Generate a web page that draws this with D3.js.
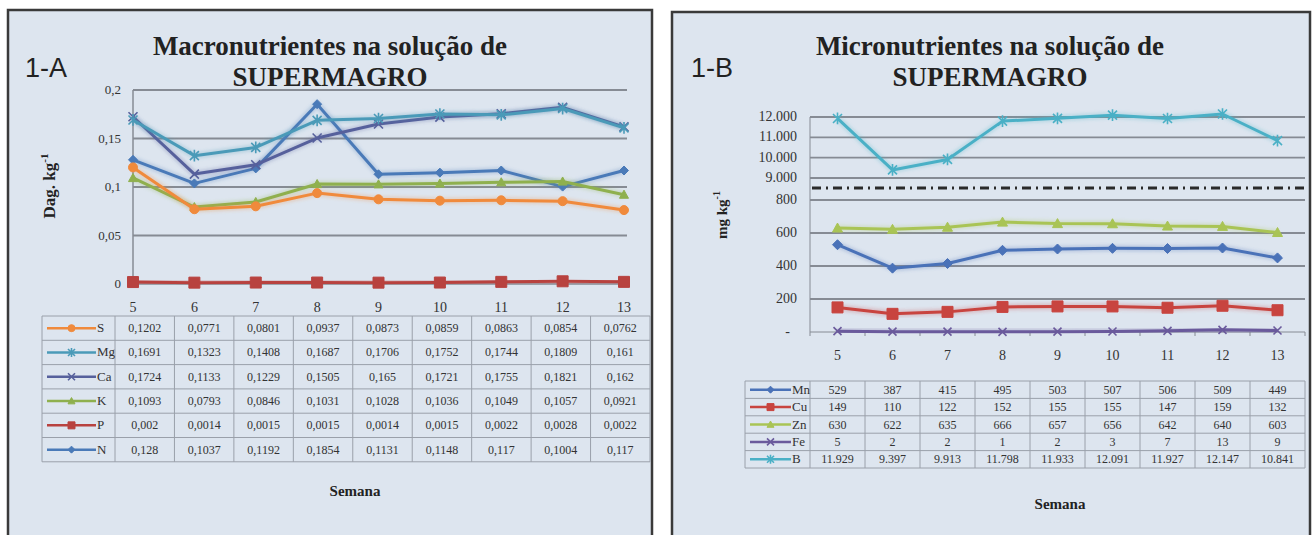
<!DOCTYPE html>
<html>
<head>
<meta charset="utf-8">
<script src="https://cdn.jsdelivr.net/npm/d3@7"></script>
<style>
  html, body { margin: 0; padding: 0; background: #ffffff; }
  svg { display: block; }
</style>
</head>
<body>
<svg id="chart" width="1314" height="535"></svg>
<script>
// ---- data ----
const weeks = [5, 6, 7, 8, 9, 10, 11, 12, 13];

// Macronutrients (Dag kg-1), table order top to bottom
const macroNames = ["S", "Mg", "Ca", "K", "P", "N"];
const macroS  = [0.1202, 0.0771, 0.0801, 0.0937, 0.0873, 0.0859, 0.0863, 0.0854, 0.0762];
const macroMg = [0.1691, 0.1323, 0.1408, 0.1687, 0.1706, 0.1752, 0.1744, 0.1809, 0.161];
const macroCa = [0.1724, 0.1133, 0.1229, 0.1505, 0.165, 0.1721, 0.1755, 0.1821, 0.162];
const macroK  = [0.1093, 0.0793, 0.0846, 0.1031, 0.1028, 0.1036, 0.1049, 0.1057, 0.0921];
const macroP  = [0.002, 0.0014, 0.0015, 0.0015, 0.0014, 0.0015, 0.0022, 0.0028, 0.0022];
const macroN  = [0.128, 0.1037, 0.1192, 0.1854, 0.1131, 0.1148, 0.117, 0.1004, 0.117];
const macroTicks = [0, 0.05, 0.1, 0.15, 0.2];

// Micronutrients (mg kg-1), table order top to bottom
const microNames = ["Mn", "Cu", "Zn", "Fe", "B"];
const microMn = [529, 387, 415, 495, 503, 507, 506, 509, 449];
const microCu = [149, 110, 122, 152, 155, 155, 147, 159, 132];
const microZn = [630, 622, 635, 666, 657, 656, 642, 640, 603];
const microFe = [5, 2, 2, 1, 2, 3, 7, 13, 9];
const microB  = [11929, 9397, 9913, 11798, 11933, 12091, 11927, 12147, 10841];
const microLowTicks = [0, 200, 400, 600, 800];
const microHighTicks = [9000, 10000, 11000, 12000];

// ---- styling per series ----
const style = {
  N:  { color: "#4a7ab8", marker: "diamond" },
  P:  { color: "#b8423f", marker: "square" },
  K:  { color: "#8fb04e", marker: "triangle" },
  Ca: { color: "#56609c", marker: "cross" },
  Mg: { color: "#4a9ab8", marker: "star" },
  S:  { color: "#f08a3c", marker: "circle" },
  Mn: { color: "#4a72b8", marker: "diamond" },
  Cu: { color: "#c8443f", marker: "square" },
  Zn: { color: "#a9c455", marker: "triangle" },
  Fe: { color: "#6a5a9c", marker: "cross" },
  B:  { color: "#4ab0c6", marker: "star" }
};

const svg = d3.select("#chart");
const serif = "'Liberation Serif', 'Times New Roman', serif";
const sans = "'Liberation Sans', Arial, sans-serif";
const panelFill = "#dde5ef";
const gridColor = "#868b94";
const commaFmt = v => String(v).replace(".", ",");
const dotThousands = d3.formatLocale({ decimal: ",", thousands: ".", grouping: [3], currency: ["", ""] }).format(",d");

const defs = svg.append("defs");
defs.append("filter").attr("id", "halo").attr("x", "-5%").attr("y", "-50%").attr("width", "110%").attr("height", "200%")
  .append("feGaussianBlur").attr("stdDeviation", 1.6);

function markerPath(type, size) {
  const s = size;
  switch (type) {
    case "diamond": return `M0,${-s}L${s},0L0,${s}L${-s},0Z`;
    case "square": return `M${-s},${-s}H${s}V${s}H${-s}Z`;
    case "triangle": return `M0,${-s}L${s},${s * 0.8}L${-s},${s * 0.8}Z`;
    case "circle": return d3.symbol(d3.symbolCircle, Math.PI * s * s)();
    case "cross": return `M${-s},${-s}L${s},${s}M${s},${-s}L${-s},${s}`;
    case "star": return `M${-s},${-s}L${s},${s}M${s},${-s}L${-s},${s}M0,${-s * 1.3}V${s * 1.3}`;
  }
}

function drawMarker(g, type, color, x, y, size) {
  const open = type === "cross" || type === "star";
  g.append("path")
    .attr("transform", `translate(${x},${y})`)
    .attr("d", markerPath(type, size))
    .attr("fill", open ? "none" : color)
    .attr("stroke", color)
    .attr("stroke-width", open ? 1.6 : 1);
}

function drawSeries(g, name, values, xs, yScale, size) {
  const st = style[name];
  const pts = values.map((v, i) => [xs(i), yScale(v)]);
  const line = d3.line();
  g.append("path").attr("d", line(pts)).attr("fill", "none")
    .attr("stroke", st.color).attr("stroke-width", 7).attr("stroke-opacity", 0.22)
    .attr("stroke-linejoin", "round").attr("filter", "url(#halo)");
  g.append("path").attr("d", line(pts)).attr("fill", "none")
    .attr("stroke", st.color).attr("stroke-width", 3).attr("stroke-linejoin", "round");
  pts.forEach(p => drawMarker(g, st.marker, st.color, p[0], p[1], size));
}

function panel(x, y, w, h) {
  svg.append("rect").attr("x", x).attr("y", y).attr("width", w).attr("height", h)
    .attr("fill", panelFill).attr("stroke", "#3a3a3a").attr("stroke-width", 2.5);
}

function titles(cx, label, lx, line1) {
  svg.append("text").attr("x", lx).attr("y", 77).attr("font-family", sans).attr("font-size", 27)
    .attr("fill", "#222").text(label);
  const t = svg.append("text").attr("text-anchor", "middle").attr("font-family", serif)
    .attr("font-weight", "bold").attr("font-size", 27).attr("fill", "#222");
  t.append("tspan").attr("x", cx).attr("y", 55).text(line1);
  t.append("tspan").attr("x", cx).attr("y", 86).text("SUPERMAGRO");
}

function dataTable(g, names, rows, left, legRight, right, top, rowH, fmt, fontSize) {
  const n = weeks.length;
  const colX = d3.scaleBand().domain(d3.range(n)).range([legRight, right]);
  const rowY = d3.scaleBand().domain(d3.range(names.length)).range([top, top + rowH * names.length]);
  const lineC = "#9aa0aa";
  d3.range(names.length + 1).forEach(i => {
    const yy = top + i * rowH;
    g.append("line").attr("x1", left).attr("x2", right).attr("y1", yy).attr("y2", yy)
      .attr("stroke", lineC).attr("stroke-width", 1);
  });
  g.append("line").attr("x1", left).attr("x2", left).attr("y1", top).attr("y2", top + rowH * names.length)
    .attr("stroke", lineC);
  d3.range(n + 1).forEach(i => {
    const xx = legRight + i * colX.bandwidth();
    g.append("line").attr("x1", xx).attr("x2", xx).attr("y1", top).attr("y2", top + rowH * names.length)
      .attr("stroke", lineC);
  });
  names.forEach((name, r) => {
    const cy = rowY(r) + rowH / 2;
    const st = style[name];
    const kx0 = left + 5, kx1 = legRight - 19;
    g.append("line").attr("x1", kx0).attr("x2", kx1).attr("y1", cy).attr("y2", cy)
      .attr("stroke", st.color).attr("stroke-width", 2.5);
    drawMarker(g, st.marker, st.color, (kx0 + kx1) / 2, cy, 3.5);
    g.append("text").attr("x", kx1 + 1).attr("y", cy + 4).attr("font-family", serif)
      .attr("font-size", fontSize + 1).attr("fill", "#333").text(name);
    rows[r].forEach((v, i) => {
      g.append("text").attr("x", colX(i) + colX.bandwidth() / 2).attr("y", cy + 4)
        .attr("text-anchor", "middle").attr("font-family", serif).attr("font-size", fontSize)
        .attr("fill", "#333").text(fmt(v, name));
    });
  });
}

// ================= Panel 1-A =================
panel(8, 10, 644, 540);
titles(330, "1-A", 25, "Macronutrientes na solução de");

const gA = svg.append("g");
const xA = d3.scalePoint().domain(d3.range(weeks.length)).range([133, 624]);
const yA = d3.scaleLinear().domain([0, 0.2]).range([284, 90]);

macroTicks.forEach(t => {
  if (t > 0) gA.append("line").attr("x1", 133).attr("x2", 627).attr("y1", yA(t)).attr("y2", yA(t))
    .attr("stroke", gridColor).attr("stroke-width", 1.8);
  gA.append("text").attr("x", 121).attr("y", yA(t) + 4).attr("text-anchor", "end")
    .attr("font-family", serif).attr("font-size", 13).attr("fill", "#333").text(commaFmt(t));
});
gA.append("line").attr("x1", 133).attr("x2", 133).attr("y1", yA(0.2)).attr("y2", yA(0))
  .attr("stroke", gridColor).attr("stroke-width", 1.5);
gA.append("line").attr("x1", 133).attr("x2", 627).attr("y1", yA(0)).attr("y2", yA(0))
  .attr("stroke", gridColor).attr("stroke-width", 1.5);

weeks.forEach((wk, i) => {
  gA.append("text").attr("x", xA(i)).attr("y", 312).attr("text-anchor", "middle")
    .attr("font-family", serif).attr("font-size", 14).attr("fill", "#333").text(wk);
});

const macroRows = [macroS, macroMg, macroCa, macroK, macroP, macroN];
// plot in series order N, P, K, Ca, Mg, S (S on top)
["N", "P", "K", "Ca", "Mg", "S"].forEach(name => {
  const vals = macroRows[macroNames.indexOf(name)];
  drawSeries(gA, name, vals, xA, yA, name === "P" ? 5.5 : 4.5);
});

dataTable(gA, macroNames, macroRows, 42, 115, 650, 316, 24.3, v => commaFmt(v), 12);

gA.append("text").attr("transform", "translate(55,186) rotate(-90)").attr("text-anchor", "middle")
  .attr("font-family", serif).attr("font-weight", "bold").attr("font-size", 17).attr("fill", "#222")
  .text("Dag. kg").append("tspan").attr("dy", -7).attr("font-size", 11).text("-1");
gA.append("text").attr("x", 355).attr("y", 496).attr("text-anchor", "middle")
  .attr("font-family", serif).attr("font-weight", "bold").attr("font-size", 15).attr("fill", "#222")
  .text("Semana");

// ================= Panel 1-B =================
panel(672, 12, 638, 540);
titles(990, "1-B", 691, "Micronutrientes na solução de");

const gB = svg.append("g");
const xB = d3.scaleBand().domain(d3.range(weeks.length)).range([810, 1305]);
const xBc = i => xB(i) + xB.bandwidth() / 2;
const yHigh = d3.scaleLinear().domain([9000, 12000]).range([178, 117]);
const yLow = d3.scaleLinear().domain([0, 800]).range([332, 200]);

microHighTicks.forEach(t => {
  gB.append("line").attr("x1", 810).attr("x2", 1305).attr("y1", yHigh(t)).attr("y2", yHigh(t))
    .attr("stroke", gridColor).attr("stroke-width", 1.8);
  gB.append("text").attr("x", 797).attr("y", yHigh(t) + 4).attr("text-anchor", "end")
    .attr("font-family", serif).attr("font-size", 14).attr("fill", "#333").text(dotThousands(t));
});
microLowTicks.forEach(t => {
  gB.append("line").attr("x1", 810).attr("x2", 1305).attr("y1", yLow(t)).attr("y2", yLow(t))
    .attr("stroke", gridColor).attr("stroke-width", t === 0 ? 1 : 1.8);
  gB.append("text").attr("x", t === 0 ? 790 : 797).attr("y", yLow(t) + 4).attr("text-anchor", "end")
    .attr("font-family", serif).attr("font-size", 14).attr("fill", "#333").text(t === 0 ? "-" : t);
});
gB.append("line").attr("x1", 810).attr("x2", 810).attr("y1", yHigh(12000)).attr("y2", yLow(0))
  .attr("stroke", gridColor).attr("stroke-width", 1);
d3.range(weeks.length + 1).forEach(i => {
  const xx = 810 + i * xB.bandwidth();
  gB.append("line").attr("x1", xx).attr("x2", xx).attr("y1", yLow(0)).attr("y2", yLow(0) + 4)
    .attr("stroke", gridColor);
});
// axis break between the two ranges
gB.append("line").attr("x1", 812).attr("x2", 1308).attr("y1", 188).attr("y2", 188)
  .attr("stroke", "#2a2a2a").attr("stroke-width", 3).attr("stroke-dasharray", "9,5,2,5");

weeks.forEach((wk, i) => {
  gB.append("text").attr("x", xBc(i)).attr("y", 360).attr("text-anchor", "middle")
    .attr("font-family", serif).attr("font-size", 14).attr("fill", "#333").text(wk);
});

const microRows = [microMn, microCu, microZn, microFe, microB];
drawSeries(gB, "Fe", microFe, xBc, yLow, 4);
drawSeries(gB, "Cu", microCu, xBc, yLow, 5.5);
drawSeries(gB, "Mn", microMn, xBc, yLow, 5);
drawSeries(gB, "Zn", microZn, xBc, yLow, 5);
drawSeries(gB, "B", microB, xBc, yHigh, 4.5);

dataTable(gB, microNames, microRows, 745, 810, 1305, 381, 17.4,
  (v, name) => name === "B" ? dotThousands(v) : String(v), 12);

gB.append("text").attr("transform", "translate(727,215) rotate(-90)").attr("text-anchor", "middle")
  .attr("font-family", serif).attr("font-weight", "bold").attr("font-size", 15).attr("fill", "#222")
  .text("mg kg").append("tspan").attr("dy", -7).attr("font-size", 10).text("-1");
gB.append("text").attr("x", 1060).attr("y", 509).attr("text-anchor", "middle")
  .attr("font-family", serif).attr("font-weight", "bold").attr("font-size", 15).attr("fill", "#222")
  .text("Semana");
</script>
</body>
</html>
